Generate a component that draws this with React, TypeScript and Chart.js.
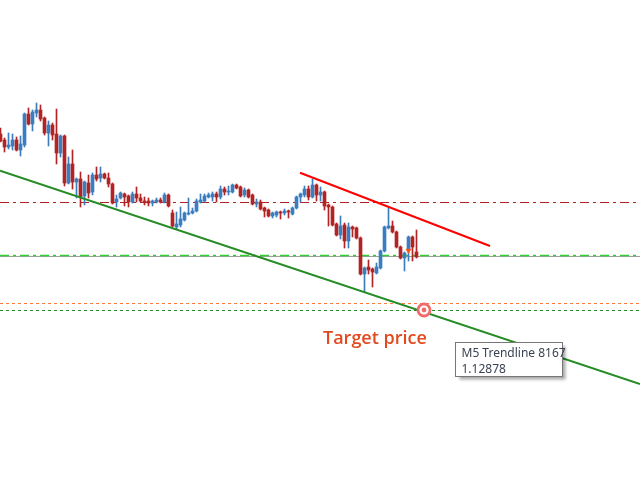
import React, { useEffect, useRef } from "react";
import { Chart, registerables } from "chart.js";

Chart.register(...registerables);

// Candle data (EURUSD M5-like prices), one entry per bar
const opens = [
  1.13230, 1.13218, 1.13204, 1.13206, 1.13218, 1.13198, 1.13208, 1.13270, 1.13250, 1.13272,
  1.13278, 1.13262, 1.13232, 1.13248, 1.13230, 1.13192, 1.13226, 1.13132, 1.13170, 1.13134,
  1.13140, 1.13106, 1.13132, 1.13114, 1.13148, 1.13142, 1.13150, 1.13142, 1.13130, 1.13094,
  1.13102, 1.13110, 1.13106, 1.13094, 1.13110, 1.13102, 1.13096, 1.13096, 1.13092, 1.13094,
  1.13098, 1.13094, 1.13108, 1.13072, 1.13044, 1.13048, 1.13058, 1.13070, 1.13072, 1.13076,
  1.13094, 1.13096, 1.13104, 1.13104, 1.13110, 1.13104, 1.13120, 1.13114, 1.13114, 1.13128,
  1.13124, 1.13108, 1.13118, 1.13108, 1.13090, 1.13094, 1.13082, 1.13078, 1.13066, 1.13068,
  1.13074, 1.13072, 1.13076, 1.13070, 1.13082, 1.13104, 1.13108, 1.13120, 1.13104, 1.13128,
  1.13108, 1.13114, 1.13088, 1.13084, 1.13050, 1.13028, 1.13048, 1.13016, 1.13044, 1.13042,
  1.13022, 1.12950, 1.12964, 1.12960, 1.12952, 1.12962, 1.12996, 1.13042, 1.13046, 1.13034,
  1.13004, 1.12982, 1.13000, 1.13024, 1.12994,
];
const closes = [
  1.13216, 1.13204, 1.13208, 1.13218, 1.13198, 1.13210, 1.13270, 1.13250, 1.13274, 1.13278,
  1.13260, 1.13232, 1.13248, 1.13228, 1.13192, 1.13226, 1.13132, 1.13170, 1.13134, 1.13140,
  1.13104, 1.13134, 1.13112, 1.13148, 1.13140, 1.13150, 1.13142, 1.13130, 1.13092, 1.13100,
  1.13112, 1.13104, 1.13094, 1.13110, 1.13102, 1.13096, 1.13094, 1.13092, 1.13096, 1.13098,
  1.13094, 1.13108, 1.13086, 1.13046, 1.13050, 1.13060, 1.13072, 1.13072, 1.13076, 1.13096,
  1.13098, 1.13106, 1.13108, 1.13110, 1.13104, 1.13120, 1.13114, 1.13116, 1.13128, 1.13122,
  1.13106, 1.13118, 1.13104, 1.13090, 1.13094, 1.13080, 1.13076, 1.13066, 1.13072, 1.13074,
  1.13072, 1.13076, 1.13074, 1.13082, 1.13104, 1.13110, 1.13120, 1.13104, 1.13128, 1.13108,
  1.13114, 1.13086, 1.13084, 1.13048, 1.13028, 1.13046, 1.13016, 1.13044, 1.13040, 1.13022,
  1.12950, 1.12962, 1.12958, 1.12954, 1.12964, 1.12996, 1.13044, 1.13046, 1.13034, 1.13004,
  1.12982, 1.12992, 1.13024, 1.13004, 1.12984,
];
const highs = [
  1.13242, 1.13222, 1.13232, 1.13230, 1.13224, 1.13226, 1.13272, 1.13282, 1.13278, 1.13292,
  1.13288, 1.13264, 1.13256, 1.13252, 1.13280, 1.13228, 1.13228, 1.13184, 1.13198, 1.13142,
  1.13154, 1.13136, 1.13148, 1.13152, 1.13164, 1.13164, 1.13152, 1.13152, 1.13132, 1.13108,
  1.13114, 1.13112, 1.13108, 1.13114, 1.13124, 1.13110, 1.13104, 1.13102, 1.13098, 1.13102,
  1.13102, 1.13112, 1.13110, 1.13078, 1.13074, 1.13084, 1.13074, 1.13102, 1.13082, 1.13100,
  1.13110, 1.13110, 1.13112, 1.13114, 1.13114, 1.13126, 1.13124, 1.13126, 1.13130, 1.13130,
  1.13126, 1.13122, 1.13120, 1.13110, 1.13100, 1.13098, 1.13084, 1.13080, 1.13074, 1.13076,
  1.13076, 1.13080, 1.13078, 1.13084, 1.13106, 1.13112, 1.13126, 1.13126, 1.13140, 1.13130,
  1.13124, 1.13116, 1.13090, 1.13086, 1.13052, 1.13066, 1.13052, 1.13052, 1.13046, 1.13044,
  1.13024, 1.12964, 1.12978, 1.12962, 1.12972, 1.12998, 1.13046, 1.13082, 1.13056, 1.13036,
  1.13006, 1.12994, 1.13026, 1.13026, 1.13038,
];
const lows = [
  1.13214, 1.13194, 1.13200, 1.13198, 1.13196, 1.13186, 1.13204, 1.13248, 1.13236, 1.13264,
  1.13256, 1.13228, 1.13206, 1.13218, 1.13170, 1.13184, 1.13126, 1.13130, 1.13120, 1.13102,
  1.13084, 1.13088, 1.13102, 1.13108, 1.13136, 1.13134, 1.13140, 1.13124, 1.13090, 1.13084,
  1.13100, 1.13086, 1.13084, 1.13092, 1.13094, 1.13094, 1.13088, 1.13086, 1.13086, 1.13092,
  1.13092, 1.13092, 1.13084, 1.13044, 1.13040, 1.13044, 1.13056, 1.13068, 1.13070, 1.13074,
  1.13092, 1.13094, 1.13102, 1.13096, 1.13094, 1.13100, 1.13108, 1.13108, 1.13112, 1.13120,
  1.13104, 1.13104, 1.13102, 1.13088, 1.13084, 1.13078, 1.13064, 1.13064, 1.13062, 1.13064,
  1.13060, 1.13068, 1.13062, 1.13068, 1.13080, 1.13094, 1.13104, 1.13098, 1.13102, 1.13096,
  1.13096, 1.13078, 1.13046, 1.13046, 1.13026, 1.13020, 1.13002, 1.13002, 1.13024, 1.13020,
  1.12948, 1.12914, 1.12950, 1.12924, 1.12950, 1.12960, 1.12994, 1.13040, 1.13032, 1.13002,
  1.12980, 1.12956, 1.12976, 1.12976, 1.12982,
];

// Drawn objects (bar index, price)
const resistanceTrend = [
  { x: 74.875, y: 1.131526 },
  { x: 122.375, y: 1.13006 },
];
const supportTrend = [
  { x: -0.125, y: 1.131566 },
  { x: 159.875, y: 1.1273 },
];
const levelDashDotRed = 1.13093;
const levelDashDotGreen = 1.12987;
const levelGray = 1.12985;
const levelOrange = 1.12891;
const levelGreen = 1.12877;
const targetPoint = { x: 105.875, y: 1.12878 };
const arrowPoint = { x: 102, y: 1.12997 };

const targetLabel = "Target price";
const tipLines = ["M5 Trendline 8167", "1.12878"];

const X_MIN = -0.125;
const X_MAX = 159.875;
const Y_MIN = 1.12538;
const Y_MAX = 1.13498;

const BULL = "#3a7ebf";
const BEAR = "#b22424";

function hLine(y: number) {
  return [
    { x: X_MIN, y },
    { x: X_MAX, y },
  ];
}

export default function App() {
  const ref = useRef<HTMLCanvasElement | null>(null);

  useEffect(() => {
    if (!ref.current) return;
    const colors = opens.map((o, i) => (closes[i] >= o ? BULL : BEAR));
    const bodies = opens.map((o, i) => ({ x: i, y: [o, closes[i]] }));
    const wicks = opens.map((_, i) => ({ x: i, y: [lows[i], highs[i]] }));

    const overlay = {
      id: "overlay",
      afterDatasetsDraw(chart: any) {
        const ctx = chart.ctx;
        const px = chart.scales.x.getPixelForValue(targetPoint.x);
        const py = chart.scales.y.getPixelForValue(targetPoint.y);
        ctx.save();
        // label
        ctx.fillStyle = "#e4491d";
        ctx.font = "600 18px 'Open Sans'";
        ctx.textBaseline = "alphabetic";
        ctx.fillText(targetLabel, px - 101, py + 34);
        // tooltip box
        const bx = Math.round(px + 31) + 0.5;
        const by = Math.round(py + 32) + 0.5;
        const bw = 107;
        const bh = 34;
        ctx.shadowColor = "rgba(0,0,0,0.35)";
        ctx.shadowOffsetX = 3;
        ctx.shadowOffsetY = 3;
        ctx.shadowBlur = 3;
        ctx.fillStyle = "#ffffff";
        ctx.fillRect(bx, by, bw, bh);
        ctx.shadowColor = "transparent";
        ctx.strokeStyle = "#767676";
        ctx.lineWidth = 1;
        ctx.strokeRect(bx, by, bw, bh);
        ctx.fillStyle = "#3a4252";
        ctx.font = "12px 'Noto Sans'";
        ctx.fillText(tipLines[0], bx + 6, by + 14);
        ctx.fillText(tipLines[1], bx + 6, by + 30);
        ctx.restore();
      },
    };

    const chart = new Chart(ref.current, {
      type: "bar",
      data: {
        datasets: [
          {
            type: "line",
            data: [targetPoint],
            showLine: false,
            pointRadius: 2.4,
            pointBackgroundColor: "#f26b6b",
            pointBorderWidth: 0,
          } as any,
          {
            type: "line",
            data: [targetPoint],
            showLine: false,
            pointRadius: 6,
            pointBackgroundColor: "#ffffff",
            pointBorderColor: "#f26b6b",
            pointBorderWidth: 2.8,
          } as any,
          {
            type: "line",
            data: [arrowPoint],
            showLine: false,
            pointStyle: "triangle",
            rotation: 180,
            pointRadius: 3.5,
            pointBackgroundColor: "#f2541f",
            pointBorderColor: "#f2541f",
            pointBorderWidth: 0,
          } as any,
          {
            type: "line",
            data: resistanceTrend,
            borderColor: "#ff0000",
            borderWidth: 2,
            pointRadius: 0,
          } as any,
          {
            type: "line",
            data: supportTrend,
            borderColor: "#228b22",
            borderWidth: 2,
            pointRadius: 0,
          } as any,
          {
            data: bodies,
            backgroundColor: colors,
            borderWidth: 0,
            barThickness: 3,
            minBarLength: 1,
            grouped: false,
          } as any,
          {
            data: wicks,
            backgroundColor: colors,
            borderWidth: 0,
            barThickness: 1,
            minBarLength: 1,
            grouped: false,
          } as any,
          {
            type: "line",
            data: hLine(levelDashDotRed),
            borderColor: "#b22222",
            borderWidth: 1.2,
            borderDash: [9, 4, 3, 4],
            pointRadius: 0,
          } as any,
          {
            type: "line",
            data: hLine(levelDashDotGreen),
            borderColor: "#32cd32",
            borderWidth: 1.5,
            borderDash: [9, 4, 3, 4],
            pointRadius: 0,
          } as any,
          {
            type: "line",
            data: hLine(levelGray),
            borderColor: "#a0a0a0",
            borderWidth: 1,
            pointRadius: 0,
          } as any,
          {
            type: "line",
            data: hLine(levelOrange),
            borderColor: "#ff7a3a",
            borderWidth: 1,
            borderDash: [3, 3],
            pointRadius: 0,
          } as any,
          {
            type: "line",
            data: hLine(levelGreen),
            borderColor: "#228b22",
            borderWidth: 1,
            borderDash: [3, 3],
            pointRadius: 0,
          } as any,
        ],
      },
      options: {
        animation: false,
        responsive: true,
        maintainAspectRatio: false,
        layout: { padding: 0, autoPadding: false },
        plugins: {
          legend: { display: false },
          tooltip: { enabled: false },
        },
        events: [],
        scales: {
          x: {
            type: "linear",
            min: X_MIN,
            max: X_MAX,
            offset: false,
            display: false,
          },
          y: {
            type: "linear",
            min: Y_MIN,
            max: Y_MAX,
            display: false,
          },
        },
      } as any,
      plugins: [overlay],
    });
    return () => chart.destroy();
  }, []);

  return (
    <div
      style={{
        position: "fixed",
        left: 0,
        top: 0,
        width: 640,
        height: 480,
        background: "#ffffff",
      }}
    >
      <canvas ref={ref} />
    </div>
  );
}
